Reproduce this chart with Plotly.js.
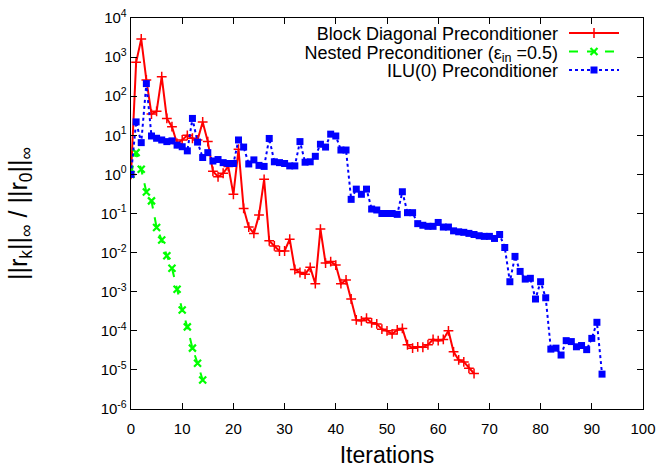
<!DOCTYPE html>
<html><head><meta charset="utf-8">
<script src="https://cdn.plot.ly/plotly-3.0.1.min.js"></script>
<style>html,body{margin:0;padding:0;background:#fff}#chart{width:662px;height:468px}</style>
</head><body><div id="chart"></div>
<script>
const seriesNames = [
  "Block Diagonal Preconditioner",
  "Nested Preconditioner (ε<sub>in</sub> =0.5)",
  "ILU(0) Preconditioner"
];
// residual ratio per iteration (iteration = index, starting at 0)
const blockDiagonal = [
  1, 735, 2900, 260, 35, 41, 316, 27, 16.6, 6.2,
  7.6, 10, 8.4, 7.6, 22, 6.9, 1.2, 0.87, 1.07, 1.6,
  0.31, 4.4, 0.135, 0.045, 0.031, 0.091, 0.75, 0.020, 0.0148, 0.011,
  0.011, 0.022, 0.0037, 0.0031, 0.0028, 0.0042, 0.0016, 0.040, 0.0054, 0.0059,
  0.0048, 0.0016, 0.0020, 6.5e-4, 1.9e-4, 1.8e-4, 2.1e-4, 1.6e-4, 1.5e-4, 1.1e-4,
  1.0e-4, 8.3e-5, 1.05e-4, 1.15e-4, 4.4e-5, 3.6e-5, 3.9e-5, 3.8e-5, 4.4e-5, 6.0e-5,
  5.6e-5, 6.0e-5, 1.0e-4, 2.9e-5, 1.8e-5, 1.6e-5, 1.1e-5, 8.1e-6
];
const nested = [
  1, 3.6, 1.35, 0.355, 0.21, 0.044, 0.021, 0.0083, 0.0040, 0.00115,
  3.4e-4, 1.26e-4, 3.6e-5, 1.48e-5, 5.5e-6
];
const ilu = [
  1, 22, 6.5, 210, 9.6, 8.4, 7.6, 6.9, 7.2, 5.6,
  5.1, 4.0, 27, 6.7, 2.7, 3.6, 2.2, 2.4, 2.0, 1.9,
  1.9, 7.6, 5.0, 1.85, 2.35, 1.7, 1.6, 8.3, 2.1, 2.0,
  1.9, 1.65, 1.65, 6.9, 2.05, 2.1, 2.9, 5.9, 5.0, 10.7,
  9.6, 4.2, 4.2, 0.23, 0.42, 0.31, 0.42, 0.13, 0.123, 0.10,
  0.10, 0.10, 0.095, 0.36, 0.105, 0.105, 0.055, 0.050, 0.047, 0.047,
  0.059, 0.045, 0.045, 0.036, 0.034, 0.033, 0.031, 0.029, 0.027, 0.026,
  0.026, 0.023, 0.029, 0.0135, 0.0018, 0.0080, 0.0033, 0.0021, 0.0022, 6.5e-4,
  0.0018, 7.0e-4, 3.4e-5, 3.6e-5, 2.4e-5, 5.6e-5, 5.3e-5, 3.9e-5, 4.2e-5, 3.3e-5,
  6.4e-5, 1.65e-4, 7.8e-6
];
const xTickVals = [0, 10, 20, 30, 40, 50, 60, 70, 80, 90, 100];
const yTickVals = [1e-6, 1e-5, 1e-4, 1e-3, 1e-2, 1e-1, 1e0, 1e1, 1e2, 1e3, 1e4];
const yTickText = ["10<sup>-6</sup>", "10<sup>-5</sup>", "10<sup>-4</sup>", "10<sup>-3</sup>",
  "10<sup>-2</sup>", "10<sup>-1</sup>", "10<sup>0</sup>", "10<sup>1</sup>", "10<sup>2</sup>",
  "10<sup>3</sup>", "10<sup>4</sup>"];

const FONT = "Liberation Sans, Arial, Helvetica, sans-serif";

const traces = [
  {
    y: blockDiagonal, name: seriesNames[0], type: "scatter", mode: "lines+markers",
    line: {color: "#ff0000", width: 2, dash: "solid"},
    marker: {symbol: "cross-thin", size: 7, line: {color: "#ff0000", width: 1.5}}
  },
  {
    y: nested, name: seriesNames[1], type: "scatter", mode: "lines+markers",
    line: {color: "#00ff00", width: 2, dash: "dash"},
    marker: {symbol: "x-thin", size: 7, line: {color: "#00ff00", width: 2.2}}
  },
  {
    y: ilu, name: seriesNames[2], type: "scatter", mode: "lines+markers",
    line: {color: "#0000ff", width: 2, dash: "dot"},
    marker: {symbol: "square", size: 7, color: "#0000ff"}
  }
];

const layout = {
  width: 662, height: 468,
  margin: {l: 131, r: 19, t: 18, b: 59},
  paper_bgcolor: "#ffffff", plot_bgcolor: "#ffffff",
  font: {family: FONT, size: 15, color: "#000"},
  showlegend: true,
  legend: {
    x: 0.5, y: 1, xanchor: "center", yanchor: "top",
    bgcolor: "rgba(0,0,0,0)", borderwidth: 0,
    font: {family: FONT, size: 18, color: "#000"},
    itemwidth: 50, tracegroupgap: 0
  },
  xaxis: {
    range: [0, 100], tickvals: xTickVals, ticks: "inside", ticklen: 6, tickcolor: "#000",
    showline: true, linecolor: "#000", linewidth: 1.3, mirror: "ticks",
    showgrid: false, zeroline: false, ticklabelstandoff: 6,
    tickfont: {family: FONT, size: 15},
    title: {text: "Iterations", font: {family: FONT, size: 23}, standoff: 12}
  },
  yaxis: {
    type: "log", range: [-6, 4], tickvals: yTickVals, ticktext: yTickText,
    ticks: "inside", ticklen: 6, tickcolor: "#000",
    showline: true, linecolor: "#000", linewidth: 1.3, mirror: "ticks",
    showgrid: false, zeroline: false,
    tickfont: {family: FONT, size: 15},
    title: {text: "||r<sub>k</sub>||<sub>∞</sub> / ||r<sub>0</sub>||<sub>∞</sub>", font: {family: FONT, size: 25}, standoff: 66}
  }
};

function parseT(el) {
  var m = /translate\(\s*([-\d.e]+)[ ,]+([-\d.e]+)\s*\)/.exec(el.getAttribute("transform") || "");
  return m ? [parseFloat(m[1]), parseFloat(m[2])] : [0, 0];
}

Plotly.newPlot("chart", traces, layout, {displayModeBar: false, staticPlot: true}).then(function (gd) {
  // gnuplot-style key: text right-aligned to the left of the line sample
  var KEY_LINE_LEFT = 569, KEY_FIRST_ROW = 33, KEY_ROW_STEP = 18.5;
  var lg = gd.querySelector(".legend");
  var sb = gd.querySelector(".legend .scrollbox");
  if (sb) sb.removeAttribute("clip-path");
  if (lg) lg.removeAttribute("clip-path");
  var rows = gd.querySelectorAll(".legend .traces");
  if (!rows.length) return;
  var t0 = parseT(rows[0]);
  rows.forEach(function (r, i) {
    r.setAttribute("transform", "translate(" + t0[0] + "," + (t0[1] + i * KEY_ROW_STEP) + ")");
  });
  gd.querySelectorAll(".legend .legendtext").forEach(function (t) {
    t.setAttribute("text-anchor", "end");
    t.setAttribute("x", "-6");
  });
  var firstLine = rows[0].querySelector(".legendlines path") || rows[0].querySelector("path");
  var bb = firstLine.getBoundingClientRect();
  var gbb = gd.getBoundingClientRect();
  var dx = KEY_LINE_LEFT - (bb.left - gbb.left);
  var dy = KEY_FIRST_ROW - ((bb.top + bb.bottom) / 2 - gbb.top);
  var lt = parseT(lg);
  lg.setAttribute("transform", "translate(" + (lt[0] + dx) + "," + (lt[1] + dy) + ")");
});
</script>
</body></html>
